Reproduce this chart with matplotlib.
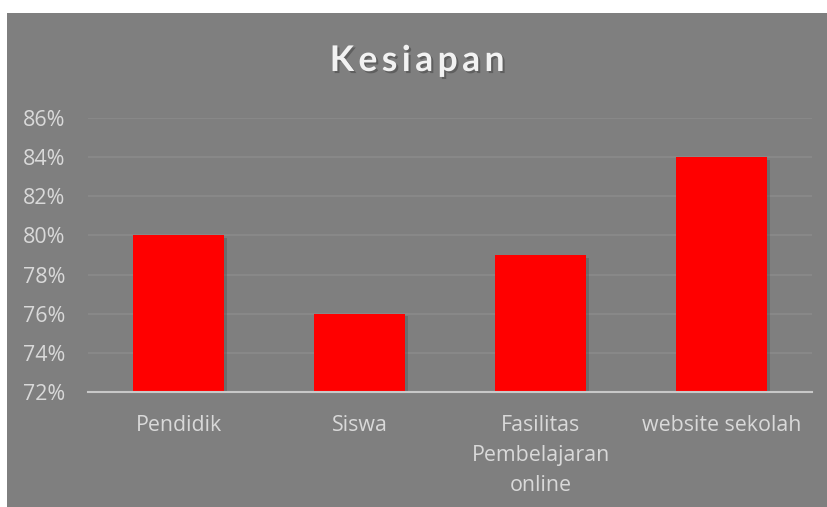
import numpy as np
import matplotlib.pyplot as plt
import matplotlib.patheffects as pe
from matplotlib.patches import Rectangle
from matplotlib.ticker import PercentFormatter

categories = ['Pendidik', 'Siswa', 'Fasilitas\nPembelajaran\nonline', 'website sekolah']
values = [0.80, 0.76, 0.79, 0.84]
yticks = [0.72, 0.74, 0.76, 0.78, 0.80, 0.82, 0.84, 0.86]

plt.rcParams['font.family'] = ['Open Sans', 'DejaVu Sans']

W, H = 827, 507
fig = plt.figure(figsize=(W / 100, H / 100), dpi=100, facecolor='white')
fig.patches.append(Rectangle((7 / W, 0), 1 - 7 / W, 1 - 13 / H,
                             transform=fig.transFigure, facecolor='#7f7f7f',
                             edgecolor='none', zorder=-10))

ax = fig.add_axes([88 / W, 115 / H, (812 - 88) / W, (392 - 118) / H])
ax.set_facecolor('none')
ax.set_zorder(1)

index = np.arange(len(categories))
bars = ax.bar(index, values, 0.5, color='#ff0000', zorder=3)
for b in bars:
    b.set_path_effects([pe.SimplePatchShadow(offset=(2, -2), shadow_rgbFace='#555555', alpha=0.45),
                        pe.Normal()])

ax.set_xlim(-0.5, len(categories) - 0.5)
ax.set_ylim(0.72, 0.86)
ax.set_yticks(yticks)
ax.yaxis.set_major_formatter(PercentFormatter(1.0, decimals=0))
ax.grid(axis='y', color='#8a8a8a', linewidth=1.2, zorder=0)

for s in ['top', 'right', 'left']:
    ax.spines[s].set_visible(False)
ax.spines['bottom'].set_color('#c8c8c8')
ax.spines['bottom'].set_linewidth(1.5)
ax.spines['bottom'].set_zorder(4)

ax.set_xticks(index)
ax.set_xticklabels(categories, linespacing=1.56, va='top')
ax.tick_params(axis='both', length=0, colors='#d9d9d9', labelsize=15.4)
ax.tick_params(axis='x', pad=16.5)
ax.tick_params(axis='y', pad=16.5)

fig.text((7 + 827) / 2 / W, 1 - 61 / H, 'K e s i a p a n'.replace(' ', '\u2009'),
         ha='center', va='center', fontsize=25.5, fontweight='bold', color='#f2f2f2',
         family=['Lato', 'DejaVu Sans'],
         path_effects=[pe.withSimplePatchShadow(offset=(1.5, -1.5), shadow_rgbFace='#404040', alpha=0.5)])

fig.savefig('out.png', dpi=100, facecolor=fig.get_facecolor())
